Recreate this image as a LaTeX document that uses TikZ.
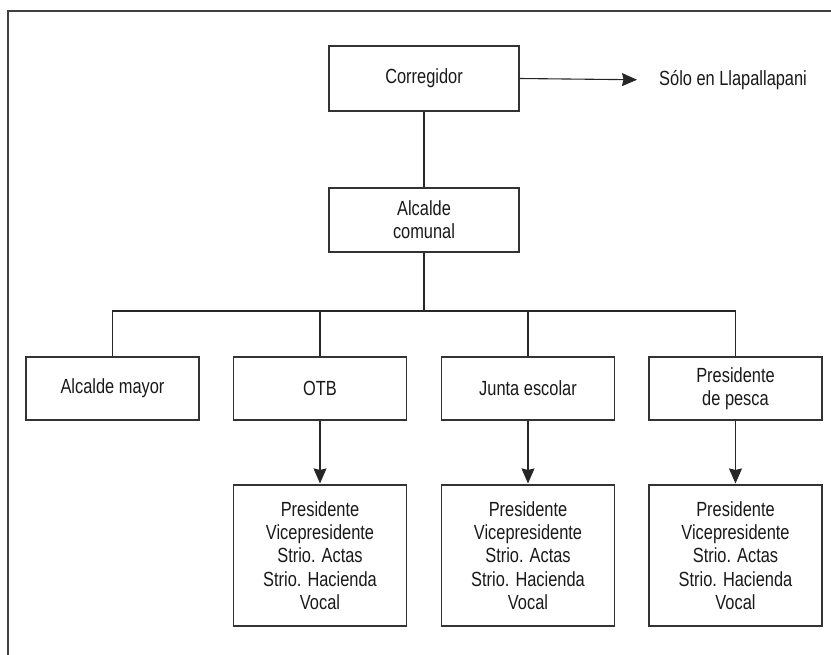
\documentclass[tikz,border=0pt]{standalone}
\usepackage{fontspec}
\setmainfont{Liberation Sans}[FakeStretch=0.8]
\usetikzlibrary{arrows.meta}
\begin{document}
\begin{tikzpicture}[x=1pt,y=-1pt,
  every node/.style={font=\fontsize{20.5}{23.3}\selectfont, text=black!90, align=center, inner sep=0pt},
  box/.style={draw=black!80, line width=1.1pt, rectangle, minimum width=#1, minimum height=63pt},
  box/.default=173pt,
  link/.style={draw=black!85, line width=1.1pt},
  arr/.style={link, -{Stealth[length=15pt,width=13pt,inset=1.5pt]}}]
\useasboundingbox (0,0) rectangle (831,655);
% frame
\draw[black!75, line width=1.2pt] (8,655) -- (8,11) -- (831,11);
% nodes
\node[box=190pt, minimum height=65pt] (corr) at (424,78.5) {Corregidor};
\node[anchor=west] (solo) at (659,80) {Sólo en Llapallapani};
\node[box=190pt, minimum height=64pt] (alc) at (424,220) {Alcalde\\comunal};
\node[box] (am)  at (112.5,388.5) {Alcalde mayor};
\node[box] (otb) at (320,388.5) {OTB};
\node[box] (je)  at (528,388.5) {Junta escolar};
\node[box] (pp)  at (735.5,388.5) {Presidente\\de pesca};
\node[box, minimum height=141pt] (l1) at (320,555.5) {Presidente\\Vicepresidente\\Strio. Actas\\Strio. Hacienda\\Vocal};
\node[box, minimum height=141pt] (l2) at (528,555.5) {Presidente\\Vicepresidente\\Strio. Actas\\Strio. Hacienda\\Vocal};
\node[box, minimum height=141pt] (l3) at (735.5,555.5) {Presidente\\Vicepresidente\\Strio. Actas\\Strio. Hacienda\\Vocal};
\coordinate (j) at (424,311);
% connectors
\draw[arr, shorten >=22pt] (corr.east) -- (solo.west);
\draw[link] (corr.south) -- (alc.north);
\draw[link] (alc.south) -- (j);
\draw[link] (am.north) -- (am.north |- j) -- (pp.north |- j) -- (pp.north);
\draw[link] (otb.north) -- (otb.north |- j);
\draw[link] (je.north) -- (je.north |- j);
\draw[arr, shorten >=1pt] (otb.south) -- (l1.north);
\draw[arr, shorten >=1pt] (je.south) -- (l2.north);
\draw[arr, shorten >=1pt] (pp.south) -- (l3.north);
\end{tikzpicture}
\end{document}
